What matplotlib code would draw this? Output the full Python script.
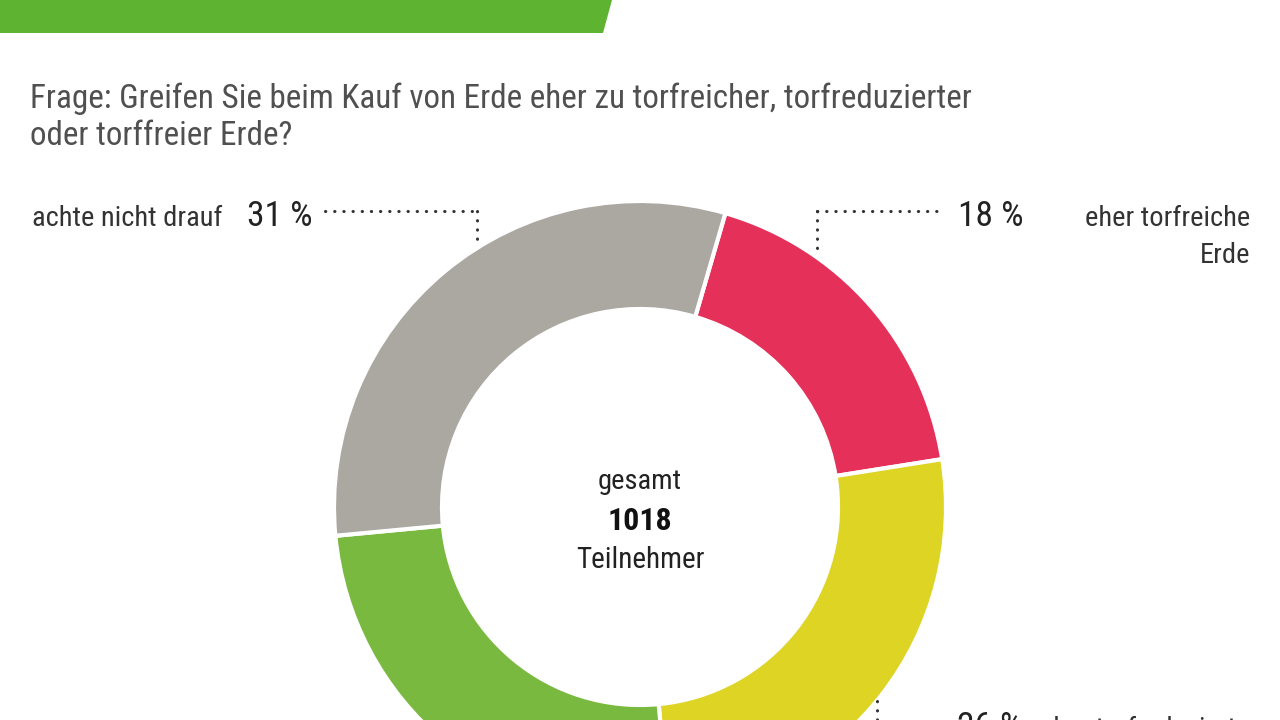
import matplotlib
matplotlib.use('Agg')
import matplotlib.pyplot as plt
from matplotlib import font_manager
from matplotlib.patches import Polygon

# survey values (percent)
labels = ['eher torfreiche Erde', 'eher torfreduzierte Erde', 'eher torffreie Erde', 'achte nicht drauf']
values = [18, 26, 25, 31]
colors = ['#e5305a', '#ddd424', '#7ab940', '#aba8a2']
total = 1018

title_lines = ['Frage: Greifen Sie beim Kauf von Erde eher zu torfreicher, torfreduzierter',
               'oder torffreier Erde?']

# pick a narrow font if there is one
fam = 'DejaVu Sans'
for f in ['Liberation Sans Narrow', 'Roboto Condensed', 'Open Sans Condensed']:
    try:
        font_manager.findfont(f, fallback_to_default=False)
        fam = f
        break
    except Exception:
        pass
plt.rcParams['font.family'] = [fam, 'DejaVu Sans']

W, H = 1280, 720
fig = plt.figure(figsize=(12.8, 7.2), dpi=100)
ax = fig.add_axes([0, 0, 1, 1])

def Y(y):
    # pixel row from top -> data y
    return H - y

# green header banner
ax.add_patch(Polygon([(0, Y(0)), (612, Y(0)), (603, Y(33)), (0, Y(33))],
                     closed=True, color='#5eb331', lw=0))

ax.text(30, Y(108), title_lines[0], fontsize=23.9, color='#505050', va='baseline', ha='left')
ax.text(30, Y(145), title_lines[1], fontsize=23.9, color='#505050', va='baseline', ha='left')

# donut
cx, cy = 640, Y(507)
ax.pie(values, colors=colors, startangle=73.8, counterclock=False,
       radius=306, center=(cx, cy),
       wedgeprops=dict(width=108, edgecolor='white', linewidth=3))

ax.text(cx, Y(489), 'gesamt', fontsize=20.5, color='#222222', ha='center', va='baseline')
ax.text(cx, Y(530), str(total), fontsize=23, fontweight='bold', color='#111111', ha='center', va='baseline')
ax.text(cx, Y(568), 'Teilnehmer', fontsize=21, color='#222222', ha='center', va='baseline')

dot = dict(color='#333333', lw=2.2, ls=(0, (0.1, 2.9)), dash_capstyle='round')

# left label
ax.text(32, Y(226), labels[3], fontsize=20.5, color='#333333', va='baseline')
ax.text(247, Y(226), '%d %%' % values[3], fontsize=25.5, color='#222222', va='baseline')
ax.plot([325, 477], [Y(211), Y(211)], **dot)
ax.plot([477, 477], [Y(211), Y(243)], **dot)

# right label
ax.plot([817, 945], [Y(211), Y(211)], **dot)
ax.plot([817, 817], [Y(211), Y(252)], **dot)
ax.text(958, Y(226), '%d %%' % values[0], fontsize=25.5, color='#222222', va='baseline')
ax.text(1250, Y(226), 'eher torfreiche', fontsize=20.5, color='#333333', ha='right', va='baseline')
ax.text(1250, Y(263), 'Erde', fontsize=20.5, color='#333333', ha='right', va='baseline')

# bottom right label (cut off at the lower edge, as in the source)
ax.plot([877, 877], [Y(701), Y(740)], **dot)
ax.text(957, Y(737), '%d %%' % values[1], fontsize=25.5, color='#222222', va='baseline')
ax.text(1250, Y(737), 'eher torfreduzierte', fontsize=20.5, color='#333333', ha='right', va='baseline')

ax.set_xlim(0, W)
ax.set_ylim(0, H)
ax.set_aspect('auto')
ax.axis('off')

fig.savefig('out.png', dpi=100, facecolor='white')
